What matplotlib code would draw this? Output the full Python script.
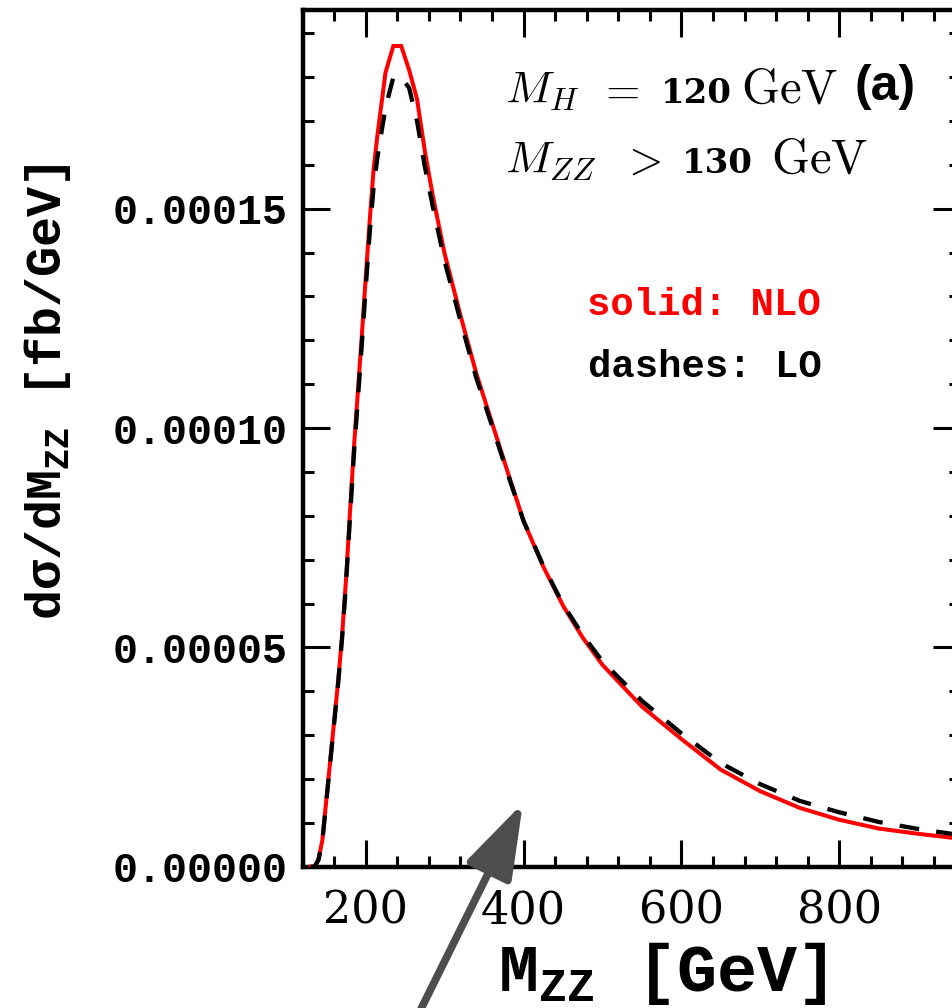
import numpy as np
import matplotlib
matplotlib.use("Agg")
import matplotlib.pyplot as plt
from matplotlib.ticker import MultipleLocator, FuncFormatter

plt.rcParams['mathtext.fontset'] = 'cm'

# M_ZZ grid [GeV]
mzz = [130, 135, 140, 145, 150, 155, 160, 165, 170, 175, 180, 185, 190, 195,
       200, 205, 210, 215, 220, 225, 235, 245, 255, 265, 275, 285, 300, 320,
       340, 360, 380, 400, 425, 450, 475, 500, 550, 600, 650, 700, 750, 800,
       850, 900, 950]
# NLO dsigma/dM_ZZ in units of 1e-5 fb/GeV
nlo_e5 = [0.0, 0.0, 0.16, 0.6, 1.51, 2.41, 3.32, 4.21, 5.26, 6.54, 8.06, 9.54,
          10.82, 12.1, 13.43, 14.72, 15.91, 16.7, 17.4, 18.1, 18.71, 18.71,
          18.16, 17.5, 16.3, 15.29, 13.97, 12.57, 11.25, 10.12, 8.99, 7.88,
          6.84, 5.95, 5.22, 4.6, 3.65, 2.91, 2.21, 1.72, 1.34, 1.07, 0.87,
          0.75, 0.645]
# LO dsigma/dM_ZZ in units of 1e-5 fb/GeV
lo_e5 = [0.0, 0.0, 0.15, 0.58, 1.48, 2.38, 3.28, 4.18, 5.2, 6.45, 7.95, 9.4,
         10.65, 11.9, 13.2, 14.45, 15.5, 16.2, 16.75, 17.3, 18.0, 18.0, 17.75,
         17.0, 15.95, 15.05, 13.8, 12.45, 11.15, 10.05, 8.95, 7.88, 6.86, 5.98,
         5.28, 4.68, 3.78, 3.04, 2.36, 1.88, 1.5, 1.24, 1.02, 0.86, 0.73]

nlo = np.array(nlo_e5) * 1e-5
lo = np.array(lo_e5) * 1e-5

W, H = 953, 1008
fig = plt.figure(figsize=(W / 100, H / 100), dpi=100)
ax_l, ax_r, ax_b, ax_t = 302.6, 960.0, 866.7, 10.0
ax = fig.add_axes([ax_l / W, 1 - ax_b / H, (ax_r - ax_l) / W, (ax_b - ax_t) / H])

ax.plot(mzz, nlo, color='#ff0000', lw=2.9, solid_joinstyle='miter', zorder=3)
ax.plot(mzz, lo, color='black', lw=3.1, dashes=(4.6, 4.0), zorder=4)

ax.set_xlim(120, 953)
ax.set_ylim(0, 1.953e-4)

ax.xaxis.set_major_locator(MultipleLocator(200))
ax.xaxis.set_minor_locator(MultipleLocator(40))
ax.yaxis.set_major_locator(MultipleLocator(5e-5))
ax.yaxis.set_minor_locator(MultipleLocator(1e-5))
ax.yaxis.set_major_formatter(FuncFormatter(lambda v, p: f"{v:.5f}"))

ax.tick_params(which='both', direction='in', top=True, right=True, width=2.2)
ax.tick_params(which='major', length=19.5)
ax.tick_params(which='minor', length=8)
ax.tick_params(axis='x', which='major', pad=16)
ax.tick_params(axis='y', which='major', pad=11)
for s in ax.spines.values():
    s.set_linewidth(3.2)

for lab in ax.get_xticklabels():
    lab.set_fontfamily('DejaVu Serif')
    lab.set_fontsize(32)
for lab in ax.get_yticklabels():
    lab.set_fontfamily('Liberation Mono')
    lab.set_fontweight('bold')
    lab.set_fontsize(30)


def ftext(px, py, s, **kw):
    """Place text at pixel position of the reference image (origin top-left)."""
    return fig.text(px / W, 1 - py / H, s, **kw)


# parameter box text (pieces positioned like the reference)
ftext(505, 103, r'$M_H$', fontsize=33, va='baseline', ha='left')
ftext(598, 103, r'$=$', fontsize=32, va='baseline', ha='left')
ftext(661, 103, '120', fontsize=24.5, va='baseline', ha='left',
      family='DejaVu Serif', weight='bold')
ftext(741, 103, r'$\mathrm{GeV}$', fontsize=35, va='baseline', ha='left')

ftext(505, 173, r'$M_{ZZ}$', fontsize=33, va='baseline', ha='left')
ftext(621, 173, r'$>$', fontsize=32, va='baseline', ha='left')
ftext(682, 173, '130', fontsize=24.5, va='baseline', ha='left',
      family='DejaVu Serif', weight='bold')
ftext(771, 173, r'$\mathrm{GeV}$', fontsize=35, va='baseline', ha='left')

ftext(855, 100, '(a)', fontsize=36, va='baseline', ha='left',
      family='Liberation Sans', weight='bold')
ftext(587, 315, 'solid: NLO', fontsize=28, va='baseline', ha='left',
      family='Liberation Mono', weight='bold', color='#ff0000')
ftext(588, 377, 'dashes: LO', fontsize=28, va='baseline', ha='left',
      family='Liberation Mono', weight='bold', color='black')

# axis titles
plt.rcParams['mathtext.fontset'] = 'custom'
plt.rcParams['mathtext.rm'] = 'Liberation Mono:bold'
plt.rcParams['mathtext.it'] = 'Liberation Mono:bold'
ftext(662, 991, r'M$_\mathregular{ZZ}$ [GeV]', ha='center', va='baseline',
      fontsize=48, family='Liberation Mono', weight='bold')
ftext(48, 392, r'd$\sigma$/dM$_\mathregular{ZZ}$ [fb/GeV]', ha='center',
      va='center', rotation=90, fontsize=36, family='Liberation Mono', weight='bold')

ax.annotate('', xy=(523, H - 803), xycoords='figure pixels',
            xytext=(410.6, -22), textcoords='figure pixels',
            arrowprops=dict(arrowstyle='-|>,head_length=2.3,head_width=0.75',
                            lw=5.5, color='#4d4d4d', shrinkA=0, shrinkB=0,
                            mutation_scale=20),
            annotation_clip=False, zorder=10)

fig.savefig('out.png', dpi=100)
